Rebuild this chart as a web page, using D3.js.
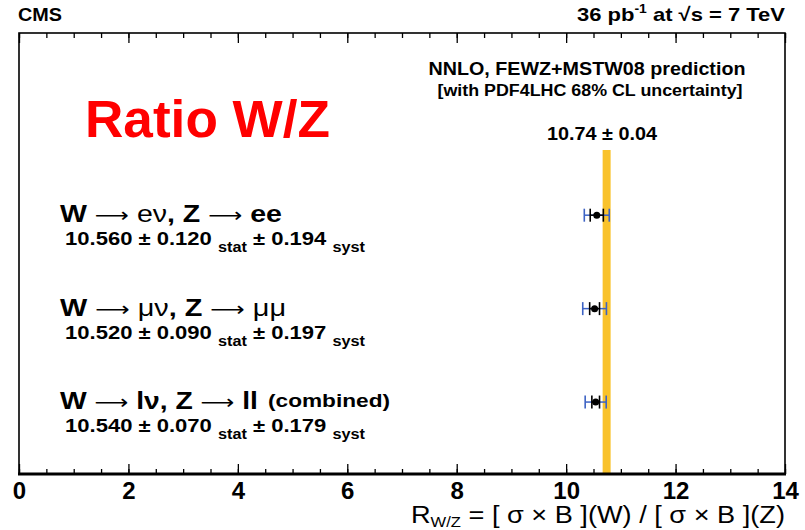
<!DOCTYPE html>
<html><head><meta charset="utf-8">
<script src="https://cdn.jsdelivr.net/npm/d3@7"></script>
<style>
body{margin:0;background:#fff;}
text{font-family:"Liberation Sans",Arial,Helvetica,sans-serif;}
</style></head>
<body><svg id="c" width="805" height="530"></svg>
<script>
// ---- data ----
const channels = ["combined", "mumu", "ee"];          // bottom to top
const centralValues = [10.540, 10.520, 10.560];
const statErrors = [0.070, 0.090, 0.120];
const systErrors = [0.179, 0.197, 0.194];
const channelLabels = [
  {w:"l\u03BD", z:"ll", extra:"(combined)"},
  {w:"\u03BC\u03BD", z:"\u03BC\u03BC", extra:""},
  {w:"e\u03BD", z:"ee", extra:""}
];
const prediction = 10.74;
const predictionErr = 0.04;
const bandHalfWidth = 0.073;   // drawn band half width (x units)
const majorTicks = [0,2,4,6,8,10,12,14];
const minorTicks = d3.range(0, 14.01, 0.5);

const svg = d3.select("#c");
const L = 19, R = 785, T = 33, B = 474;
const x = d3.scaleLinear().domain([0,14]).range([L,R]);
const y = d3.scaleLinear().domain([-0.77, 3.95]).range([B,T]);

// frame
svg.append("rect").attr("x",L).attr("y",T).attr("width",R-L).attr("height",B-T)
  .attr("fill","none").attr("stroke","#000").attr("stroke-width",1.6);

// prediction band
svg.append("rect")
  .attr("x", x(prediction-bandHalfWidth)).attr("width", x(prediction+bandHalfWidth)-x(prediction-bandHalfWidth))
  .attr("y", 150).attr("height", B-150).attr("fill","#f9c22b");

// axes
const bottomMinor = d3.axisBottom(x).tickValues(minorTicks).tickSize(-5).tickFormat("");
const bottomMajor = d3.axisBottom(x).tickValues(majorTicks).tickSize(-10).tickFormat(d3.format("d")).tickPadding(8);
const topMinor = d3.axisTop(x).tickValues(minorTicks).tickSize(-5).tickFormat("");
const topMajor = d3.axisTop(x).tickValues(majorTicks).tickSize(-10).tickFormat("");
[[bottomMinor,B],[bottomMajor,B],[topMinor,T],[topMajor,T]].forEach(([ax,yy])=>{
  const g = svg.append("g").attr("transform",`translate(0,${yy})`).call(ax);
  g.select(".domain").remove();
  g.selectAll(".tick line").attr("stroke","#000").attr("stroke-width",1.3);
  g.selectAll(".tick text").attr("font-size",24).attr("font-weight","bold")
    .attr("fill","#000").attr("font-family","'Liberation Sans',Arial,sans-serif");
});
svg.append("line").attr("x1",L-1).attr("x2",R+1).attr("y1",B).attr("y2",B)
  .attr("stroke","#000").attr("stroke-width",3);

// axis title
const at = svg.append("text").attr("x",R).attr("y",523).attr("text-anchor","end")
  .attr("font-size",23).attr("textLength",374).attr("lengthAdjust","spacingAndGlyphs");
at.append("tspan").text("R");
at.append("tspan").attr("font-size",14).attr("dy",4).text("W/Z");
at.append("tspan").attr("dy",-4).text(" = [ \u03C3 \u00D7 B ](W) / [ \u03C3 \u00D7 B ](Z)");

// header
svg.append("text").attr("x",18).attr("y",21).attr("font-size",18).attr("font-weight","bold")
  .attr("textLength",44).attr("lengthAdjust","spacingAndGlyphs").text("CMS");
const hd = svg.append("text").attr("x",785).attr("y",21).attr("text-anchor","end")
  .attr("font-size",19).attr("font-weight","bold").attr("textLength",208).attr("lengthAdjust","spacingAndGlyphs");
hd.append("tspan").text("36 pb");
hd.append("tspan").attr("font-size",12).attr("dy",-8).text("-1");
hd.append("tspan").attr("dy",8).text(" at  \u221As = 7 TeV");

// prediction texts
svg.append("text").attr("x",587).attr("y",75).attr("text-anchor","middle")
  .attr("font-size",19).attr("font-weight","bold").attr("textLength",317).attr("lengthAdjust","spacingAndGlyphs")
  .text("NNLO, FEWZ+MSTW08 prediction");
svg.append("text").attr("x",590).attr("y",96).attr("text-anchor","middle")
  .attr("font-size",16).attr("font-weight","bold").attr("textLength",305).attr("lengthAdjust","spacingAndGlyphs")
  .text("[with PDF4LHC 68% CL uncertainty]");
svg.append("text").attr("x",602).attr("y",140).attr("text-anchor","middle")
  .attr("font-size",18).attr("font-weight","bold").attr("textLength",110).attr("lengthAdjust","spacingAndGlyphs")
  .text(`${prediction.toFixed(2)} \u00B1 ${predictionErr.toFixed(2)}`);

// Ratio W/Z
svg.append("text").attr("x",85).attr("y",137).attr("font-size",51).attr("font-weight","bold")
  .attr("fill","#ff0000").attr("textLength",245).attr("lengthAdjust","spacingAndGlyphs").text("Ratio W/Z");

// labels per channel
const line1Len = [198, 226, 222];
const arrow = "\u27F6";
channels.forEach((c,i)=>{
  const yc = y(i);
  const lab = channelLabels[i];
  const t1 = svg.append("text").attr("x",60).attr("y",yc+7).attr("font-size",24).attr("font-weight","bold")
    .attr("textLength",line1Len[i]).attr("lengthAdjust","spacingAndGlyphs");
  t1.append("tspan").text("W ");
  t1.append("tspan").attr("font-weight","normal").attr("font-family","'DejaVu Sans'").attr("font-size",20).text(arrow);
  t1.append("tspan").attr("font-weight", lab.w.startsWith("l")? "bold":"normal").text(" " + lab.w);
  t1.append("tspan").text(",  Z ");
  t1.append("tspan").attr("font-weight","normal").attr("font-family","'DejaVu Sans'").attr("font-size",20).text(arrow);
  t1.append("tspan").attr("font-weight", lab.z==="ee"||lab.z==="ll" ? "bold":"normal").text(" " + lab.z);
  if (lab.extra) svg.append("text").attr("x",268).attr("y",yc+5).attr("font-size",18).attr("font-weight","bold")
    .attr("textLength",122).attr("lengthAdjust","spacingAndGlyphs").text(lab.extra);
  const t2 = svg.append("text").attr("x",65).attr("y",yc+30).attr("font-size",19).attr("font-weight","bold")
    .attr("textLength",300).attr("lengthAdjust","spacingAndGlyphs");
  t2.append("tspan").text(`${centralValues[i].toFixed(3)} \u00B1 ${statErrors[i].toFixed(3)} `);
  t2.append("tspan").attr("font-size",14).attr("dy",7).text("stat");
  t2.append("tspan").attr("dy",-7).text(` \u00B1 ${systErrors[i].toFixed(3)} `);
  t2.append("tspan").attr("font-size",14).attr("dy",7).text("syst");
});

// error bars
const cap = 6.5;
channels.forEach((c,i)=>{
  const yc = y(i);
  const v = centralValues[i];
  const tot = Math.sqrt(statErrors[i]**2 + systErrors[i]**2);
  const g = svg.append("g");
  g.append("line").attr("x1",x(v-tot)).attr("x2",x(v+tot)).attr("y1",yc).attr("y2",yc).attr("stroke","#3d63c4").attr("stroke-width",1.5);
  [v-tot, v+tot].forEach(e=>g.append("line").attr("x1",x(e)).attr("x2",x(e)).attr("y1",yc-cap).attr("y2",yc+cap).attr("stroke","#3d63c4").attr("stroke-width",1.6));
  g.append("line").attr("x1",x(v-statErrors[i])).attr("x2",x(v+statErrors[i])).attr("y1",yc).attr("y2",yc).attr("stroke","#000").attr("stroke-width",1.5);
  [v-statErrors[i], v+statErrors[i]].forEach(e=>g.append("line").attr("x1",x(e)).attr("x2",x(e)).attr("y1",yc-cap).attr("y2",yc+cap).attr("stroke","#000").attr("stroke-width",1.6));
  g.append("circle").attr("cx",x(v)).attr("cy",yc).attr("r",3.5).attr("fill","#000");
});
</script></body></html>
